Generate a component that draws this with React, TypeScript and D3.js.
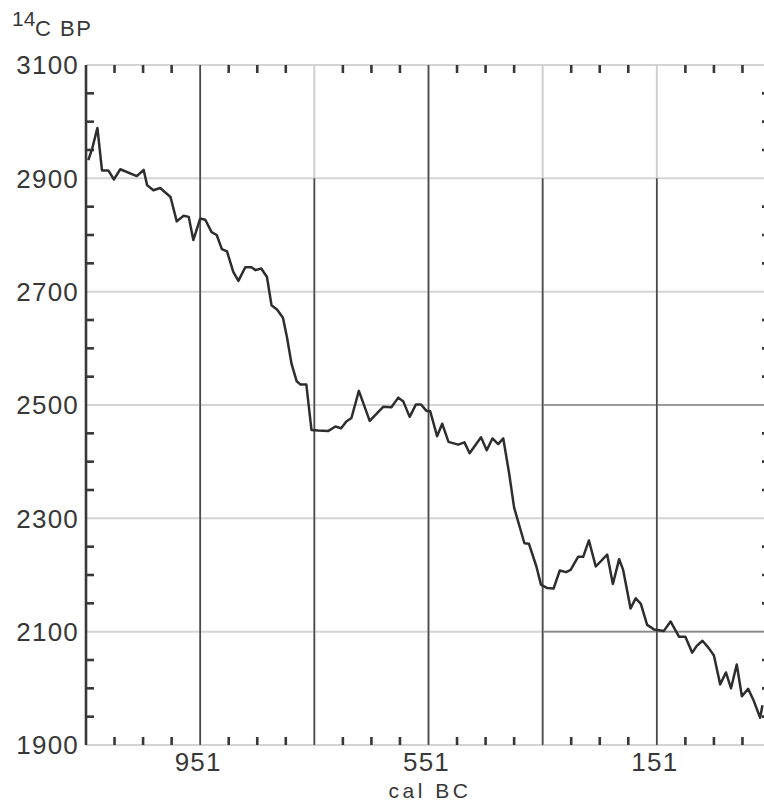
import React from "react";
import * as d3 from "d3";

// calibration curve (cal BC vs 14C BP)
const calBC = [1147, 1140, 1131, 1123, 1112, 1102, 1091, 1062, 1050, 1044, 1033, 1021, 1003, 992, 980, 971, 963, 951, 942, 931, 922, 913, 904, 893, 884, 872, 861, 854, 844, 834, 826, 816, 806, 799, 791, 782, 775, 765, 756, 744, 727, 714, 704, 695, 686, 673, 654, 630, 616, 604, 595, 584, 573, 564, 555, 548, 536, 527, 516, 499, 488, 479, 459, 449, 439, 429, 420, 410, 401, 383, 375, 362, 354, 343, 332, 321, 310, 302, 289, 280, 270, 258, 238, 228, 217, 210, 197, 188, 179, 168, 156, 139, 127, 112, 101, 89, 81, 71, 60, 51, 40, 30, 21, 11, 2, -9, -18, -30, -34];
const c14BP = [2932, 2953, 2989, 2914, 2914, 2898, 2916, 2904, 2915, 2888, 2879, 2883, 2867, 2824, 2834, 2832, 2791, 2829, 2827, 2805, 2800, 2775, 2771, 2735, 2719, 2743, 2743, 2738, 2741, 2726, 2676, 2668, 2654, 2620, 2573, 2542, 2536, 2536, 2456, 2455, 2454, 2462, 2459, 2471, 2477, 2525, 2472, 2497, 2496, 2513, 2506, 2479, 2501, 2501, 2490, 2489, 2445, 2467, 2435, 2430, 2434, 2415, 2443, 2420, 2441, 2431, 2441, 2381, 2319, 2256, 2255, 2215, 2183, 2177, 2176, 2208, 2205, 2209, 2232, 2232, 2261, 2215, 2236, 2184, 2228, 2209, 2141, 2159, 2149, 2112, 2104, 2101, 2118, 2091, 2091, 2063, 2075, 2084, 2071, 2058, 2007, 2028, 2000, 2042, 1986, 1999, 1980, 1948, 1970];

const xGrid = [951, 751, 551, 351, 151];
const xLabels = [951, 551, 151];
const yLabels = [3100, 2900, 2700, 2500, 2300, 2100, 1900];

const W = 764;
const H = 802;

// the scanned grid lines are faint near the top on some columns
const darkFrom = { 951: 3100, 751: 2900, 551: 3100, 351: 2900, 151: 2900 };

export default function App() {
  let x = d3.scaleLinear().domain([1151, -49]).range([86, 771]);
  let y = d3.scaleLinear().domain([3100, 1900]).range([65, 745]);

  let xMinor = d3.range(1101, -49, -50).filter(d => !xGrid.includes(d));
  let yMinor = d3.range(3050, 1900, -50).filter(d => !yLabels.includes(d));

  let pts = calBC.map((d, i) => [d, c14BP[i]]);
  let line = d3
    .line()
    .x(d => x(d[0]))
    .y(d => y(d[1]));

  let ink = "#383838";
  let font = "'Liberation Sans', Arial, sans-serif";

  return (
    <svg
      width={W}
      height={H}
      style={{ position: "absolute", left: 0, top: 0, background: "#fff" }}
      fontFamily={font}
    >
      {/* horizontal grid */}
      {yLabels.map(v => (
        <line key={"h" + v} x1={x(1151)} x2={W} y1={y(v)} y2={y(v)} stroke="#d4d4d4" strokeWidth={2} />
      ))}
      {[2500, 2100].map(v => (
        <line key={"hd" + v} x1={x(351)} x2={W} y1={y(v)} y2={y(v)} stroke="#8a8a8a" strokeWidth={1.6} />
      ))}
      {/* vertical grid */}
      {xGrid.map(v => (
        <g key={"v" + v}>
          <line x1={x(v)} x2={x(v)} y1={y(3100)} y2={y(1900)} stroke="#cfcfcf" strokeWidth={2} />
          <line x1={x(v)} x2={x(v)} y1={y(darkFrom[v])} y2={y(1900)} stroke="#4a4a4a" strokeWidth={1.7} />
        </g>
      ))}
      {/* left axis */}
      <line x1={x(1151)} x2={x(1151)} y1={y(3100)} y2={y(1900)} stroke={ink} strokeWidth={2.6} />
      {/* minor ticks */}
      {yMinor.map(v => (
        <g key={"ty" + v}>
          <line x1={x(1151)} x2={x(1151) + 8} y1={y(v)} y2={y(v)} stroke={ink} strokeWidth={2.6} />
          <line x1={x(-49) - 9} x2={x(-49)} y1={y(v)} y2={y(v)} stroke={ink} strokeWidth={2.6} />
        </g>
      ))}
      {xMinor.map(v => (
        <g key={"tx" + v}>
          <line x1={x(v)} x2={x(v)} y1={y(3100)} y2={y(3100) + 8} stroke={ink} strokeWidth={2.6} />
          <line x1={x(v)} x2={x(v)} y1={y(1900)} y2={y(1900) - 8} stroke={ink} strokeWidth={2.6} />
        </g>
      ))}

      <path d={line(pts)} fill="none" stroke="#2e2e2e" strokeWidth={2.5} strokeLinejoin="round" />

      {/* y labels */}
      {yLabels.map(v => (
        <text key={"ly" + v} x={79} y={y(v)} dy="0.36em" textAnchor="end" fontSize={26} fill={ink} letterSpacing={1.2}>
          {v}
        </text>
      ))}
      {/* x labels */}
      {xLabels.map(v => (
        <text key={"lx" + v} x={x(v) - 2} y={771} textAnchor="middle" fontSize={26} fill={ink} letterSpacing={1.2}>
          {v}
        </text>
      ))}
      <text x={430} y={798} textAnchor="middle" fontSize={21} fill={ink} letterSpacing={3.5}>
        cal BC
      </text>

      <text x={12} y={26} fontSize={21} fill={ink}>
        14
      </text>
      <text x={35} y={36} fontSize={22} fill={ink} letterSpacing={1.5}>
        C BP
      </text>
    </svg>
  );
}
